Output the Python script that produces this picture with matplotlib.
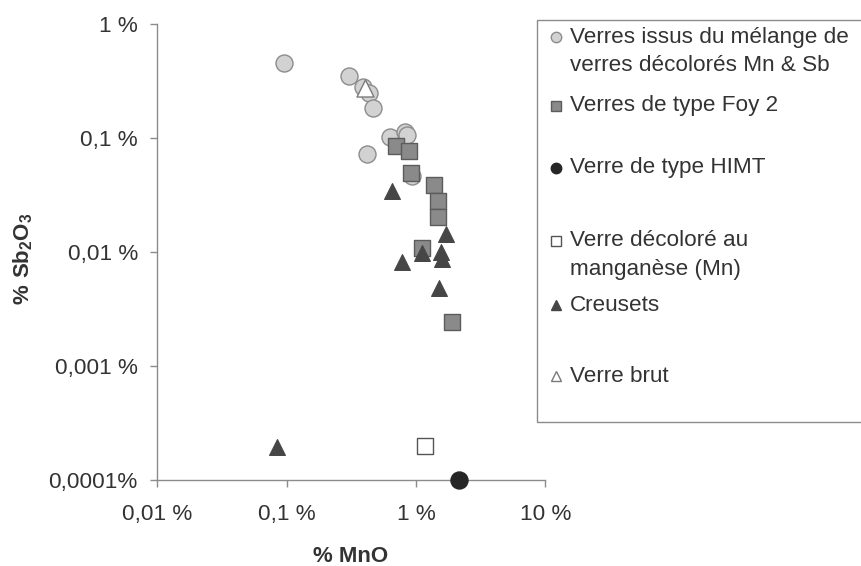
import matplotlib
matplotlib.use('Agg')
import matplotlib.pyplot as plt
from matplotlib.lines import Line2D
from matplotlib.patches import Rectangle
from matplotlib.ticker import FixedLocator, NullLocator

plt.rcParams['font.family'] = ['Liberation Sans', 'DejaVu Sans']
plt.rcParams['mathtext.fontset'] = 'custom'
plt.rcParams['mathtext.rm'] = 'Liberation Sans'
plt.rcParams['mathtext.bf'] = 'Liberation Sans:bold'

# % MnO / % Sb2O3
melange_mno = [0.096, 0.305, 0.39, 0.436, 0.463, 0.63, 0.82, 0.85, 0.42, 0.94]
melange_sb = [0.455, 0.352, 0.282, 0.247, 0.182, 0.103, 0.114, 0.106, 0.072, 0.046]

foy2_mno = [0.70, 0.88, 0.91, 1.38, 1.47, 1.47, 1.11, 1.91]
foy2_sb = [0.085, 0.077, 0.0496, 0.0387, 0.028, 0.0201, 0.0108, 0.00242]

himt_mno = [2.17]
himt_sb = [0.0001]

mn_mno = [1.175]
mn_sb = [0.0002]

creusets_mno = [0.65, 1.71, 1.12, 0.785, 1.56, 1.60, 1.50, 0.0838]
creusets_sb = [0.0345, 0.0144, 0.00975, 0.0081, 0.0099, 0.0087, 0.00486, 0.000196]

brut_mno = [0.404]
brut_sb = [0.273]

x_ticks = [0.01, 0.1, 1, 10]
x_labels = ['0,01 %', '0,1 %', '1 %', '10 %']
y_ticks = [0.0001, 0.001, 0.01, 0.1, 1]
y_labels = ['0,0001%', '0,001 %', '0,01 %', '0,1 %', '1 %']

W, H = 861, 566
fig = plt.figure(figsize=(W / 100, H / 100), dpi=100)
ax = fig.add_axes([157.3 / W, 1 - 480 / H, (545.3 - 157.3) / W, (480 - 24) / H])

txt = '#333333'
ax.scatter(melange_mno, melange_sb, s=150, marker='o', facecolor='#d2d2d2',
           edgecolor='#8c8c8c', linewidth=1, zorder=3)
ax.scatter(foy2_mno, foy2_sb, s=135, marker='s', facecolor='#8a8a8a',
           edgecolor='#5c5c5c', linewidth=1, zorder=4)
ax.scatter(himt_mno, himt_sb, s=150, marker='o', facecolor='#262626',
           edgecolor='#262626', linewidth=1, zorder=5, clip_on=False)
ax.scatter(mn_mno, mn_sb, s=140, marker='s', facecolor='white',
           edgecolor='#555555', linewidth=1, zorder=5)
ax.scatter(creusets_mno, creusets_sb, s=130, marker='^', facecolor='#464646',
           edgecolor='#464646', linewidth=0.8, zorder=6)
ax.scatter(brut_mno, brut_sb, s=150, marker='^', facecolor='white',
           edgecolor='#7a7a7a', linewidth=1, zorder=6)

ax.set_xscale('log')
ax.set_yscale('log')
ax.set_xlim(0.01, 10)
ax.set_ylim(0.0001, 1)
ax.xaxis.set_major_locator(FixedLocator(x_ticks))
ax.yaxis.set_major_locator(FixedLocator(y_ticks))
ax.xaxis.set_minor_locator(NullLocator())
ax.yaxis.set_minor_locator(NullLocator())
ax.set_xticklabels(x_labels)
ax.set_yticklabels(y_labels)
ax.tick_params(axis='both', direction='out', length=5, width=1, color='#8c8c8c',
               labelsize=16.2, labelcolor=txt)
ax.tick_params(axis='y', pad=9)
ax.tick_params(axis='x', pad=12)
for side in ['top', 'right']:
    ax.spines[side].set_visible(False)
for side in ['left', 'bottom']:
    ax.spines[side].set_color('#8c8c8c')
    ax.spines[side].set_linewidth(1)

fig.text(351 / W, 1 - 557 / H, '% MnO', ha='center', va='center',
         fontsize=16, fontweight='bold', color=txt)
fig.text(23 / W, 1 - 259 / H, r'$\mathbf{\%\ Sb_2O_3}$', ha='center', va='center',
         rotation=90, fontsize=16, color=txt)

# legend box, drawn by hand (it runs past the right edge)
fig.patches.append(Rectangle((537 / W, 1 - 422 / H), 340 / W, 402 / H,
                             transform=fig.transFigure, facecolor='white',
                             edgecolor='#8c8c8c', linewidth=1, clip_on=False))
entries = [
    (37, ['Verres issus du mélange de', 'verres décolorés Mn & Sb'], 'o', '#d2d2d2', '#8c8c8c'),
    (106, ['Verres de type Foy 2'], 's', '#8a8a8a', '#5c5c5c'),
    (168, ['Verre de type HIMT'], 'o', '#262626', '#262626'),
    (241, ['Verre décoloré au', 'manganèse (Mn)'], 's', 'white', '#555555'),
    (305, ['Creusets'], '^', '#464646', '#464646'),
    (376, ['Verre brut'], '^', 'white', '#7a7a7a'),
]
for ypx, lines, mk, fc, ec in entries:
    fig.add_artist(Line2D([556 / W], [1 - ypx / H], marker=mk, markersize=7.5,
                          markerfacecolor=fc, markeredgecolor=ec, linestyle='none',
                          transform=fig.transFigure))
    for i, line in enumerate(lines):
        fig.text(570 / W, 1 - (ypx + 28.5 * i) / H, line, ha='left', va='center',
                 fontsize=16.2, color=txt)

fig.savefig('out.png', dpi=100)
